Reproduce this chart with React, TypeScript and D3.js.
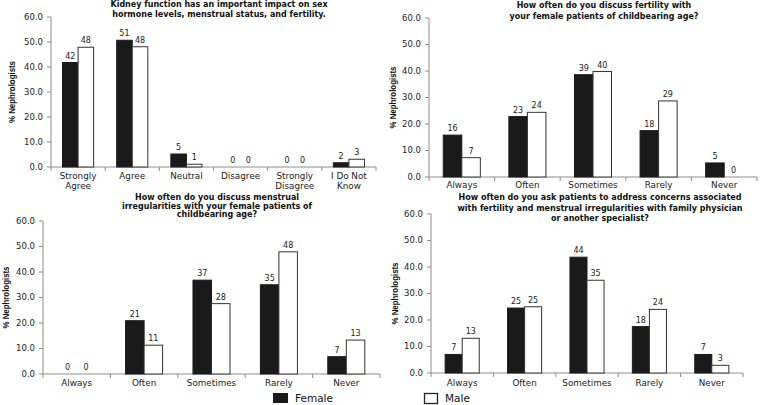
import React from "react";
import * as d3 from "d3";

// panel 1
const agreeCats = [["Strongly", "Agree"], ["Agree"], ["Neutral"], ["Disagree"], ["Strongly", "Disagree"], ["I Do Not", "Know"]];
const agreeFemale = [41.8, 50.7, 5.2, 0, 0, 1.7];
const agreeMale = [47.9, 48.1, 1.1, 0, 0, 3.1];

// shared frequency categories
const freqCats = [["Always"], ["Often"], ["Sometimes"], ["Rarely"], ["Never"]];

// panel 2
const fertFemale = [15.8, 22.8, 38.6, 17.5, 5.3];
const fertMale = [7.3, 24.4, 39.8, 28.7, 0];

// panel 3
const menstFemale = [0, 20.9, 36.8, 35.0, 6.8];
const menstMale = [0, 11.3, 27.6, 47.9, 13.3];

// panel 4
const referFemale = [7.0, 24.5, 43.7, 17.5, 7.0];
const referMale = [13.1, 25.0, 35.0, 24.0, 2.9];

const yTicks = [0, 10, 20, 30, 40, 50, 60];
const series = ["Female", "Male"];

const titles = [
  ["Kidney function has an important impact on sex", "hormone levels,  menstrual status, and fertility."],
  ["How often do you discuss fertility with", "your female patients of childbearing age?"],
  ["How often do you discuss menstrual", "irregularities with your female patients of", "childbearing age?"],
  ["How often do you ask patients to address concerns associated", "with fertility and menstrual irregularities with family physician", "or another specialist?"],
];

const AXIS = "#8c8c8c";
const FONT = "'DejaVu Sans', Verdana, sans-serif";

interface PanelProps {
  cats: string[][];
  female: number[];
  male: number[];
  title: string[];
  x0: number;
  x1: number;
  yTop: number;
  yBot: number;
  titleX: number;
  titleY: number;
  titleStep: number;
  labelX: number;
  catY: number;
  pad: number;
}

const Panel: React.FC<PanelProps> = (p) => {
  const names = p.cats.map((c) => c.join(" "));
  const x = d3.scaleBand<string>().domain(names).range([p.x0, p.x1]).padding(0);
  const xs = d3.scaleBand<string>().domain(series).range([0, x.bandwidth()]).paddingInner(0).paddingOuter(p.pad);
  const y = d3.scaleLinear().domain([0, 60]).range([p.yBot, p.yTop]);
  const fmt = d3.format(".1f");
  const bounds = names.map((n) => x(n)!).concat([p.x1]);

  return (
    <g>
      {p.title.map((t, i) => (
        <text key={i} x={p.titleX} y={p.titleY + i * p.titleStep} textAnchor="middle" fontFamily={FONT} fontWeight="bold" fontSize={8} fill="#111">
          {t}
        </text>
      ))}
      <text
        transform={`translate(${p.labelX},${(p.yTop + p.yBot) / 2}) rotate(-90)`}
        textAnchor="middle"
        dominantBaseline="central"
        fontFamily="'Liberation Sans Narrow', 'Arial Narrow', sans-serif"
        fontWeight="bold"
        fontSize={9}
        textLength={62}
        lengthAdjust="spacingAndGlyphs"
        fill="#111"
      >
        % Nephrologists
      </text>
      {/* y axis */}
      <line x1={p.x0} x2={p.x0} y1={p.yTop} y2={p.yBot} stroke={AXIS} />
      {yTicks.map((t) => (
        <g key={t}>
          <line x1={p.x0 - 4} x2={p.x0} y1={y(t)} y2={y(t)} stroke={AXIS} />
          <text x={p.x0 - 8} y={y(t)} dy="0.35em" textAnchor="end" fontFamily={FONT} fontSize={8.5} fill="#222">
            {fmt(t)}
          </text>
        </g>
      ))}
      {/* x axis */}
      <line x1={p.x0} x2={p.x1} y1={p.yBot} y2={p.yBot} stroke={AXIS} />
      {bounds.map((b, i) => (
        <line key={i} x1={b} x2={b} y1={p.yBot} y2={p.yBot + 4} stroke={AXIS} />
      ))}
      {p.cats.map((c, i) => (
        <text key={i} x={x(names[i])! + x.bandwidth() / 2} y={p.catY} textAnchor="middle" fontFamily={FONT} fontSize={8.8} fill="#222">
          {c.map((l, j) => (
            <tspan key={j} x={x(names[i])! + x.bandwidth() / 2} dy={j === 0 ? 0 : 9.5}>
              {l}
            </tspan>
          ))}
        </text>
      ))}
      {names.map((n, i) =>
        [p.female[i], p.male[i]].map((v, k) => {
          const bx = x(n)! + xs(series[k])!;
          return (
            <g key={`${i}-${k}`}>
              {v > 0 && (
                <rect
                  x={bx}
                  y={y(v)}
                  width={xs.bandwidth()}
                  height={p.yBot - y(v)}
                  fill={k === 0 ? "#1a1a1a" : "#fff"}
                  stroke={k === 0 ? "#1a1a1a" : "#333"}
                  strokeWidth={1}
                />
              )}
              <text x={bx + xs.bandwidth() / 2} y={y(v) - 4} textAnchor="middle" fontFamily={FONT} fontSize={8} fill="#222">
                {Math.round(v)}
              </text>
            </g>
          );
        })
      )}
    </g>
  );
};

export default function App() {
  return (
    <svg width={760} height={405} style={{ position: "absolute", left: 0, top: 0, background: "#fff" }}>
      <rect width={760} height={405} fill="#fff" />
      <Panel cats={agreeCats} female={agreeFemale} male={agreeMale} title={titles[0]} x0={51} x1={376} yTop={17} yBot={167} titleX={219} titleY={7} titleStep={9.5} labelX={12} catY={179} pad={0.74} />
      <Panel cats={freqCats} female={fertFemale} male={fertMale} title={titles[1]} x0={429} x1={757} yTop={18} yBot={177} titleX={604} titleY={8} titleStep={11} labelX={393} catY={188} pad={0.77} />
      <Panel cats={freqCats} female={menstFemale} male={menstMale} title={titles[2]} x0={43} x1={380} yTop={221} yBot={374} titleX={217} titleY={200} titleStep={8.7} labelX={6} catY={386} pad={0.82} />
      <Panel cats={freqCats} female={referFemale} male={referMale} title={titles[3]} x0={431} x1={743} yTop={214} yBot={373} titleX={600} titleY={200} titleStep={10.5} labelX={395} catY={386} pad={0.83} />
      {/* legend */}
      <rect x={273} y={393} width={15} height={10} fill="#1a1a1a" />
      <text x={295} y={402} fontFamily={FONT} fontSize={10.5} fill="#111">Female</text>
      <rect x={424.5} y={393.5} width={13} height={10} fill="#fff" stroke="#222" strokeWidth={1.3} />
      <text x={445} y={402} fontFamily={FONT} fontSize={10.5} fill="#111">Male</text>
    </svg>
  );
}
